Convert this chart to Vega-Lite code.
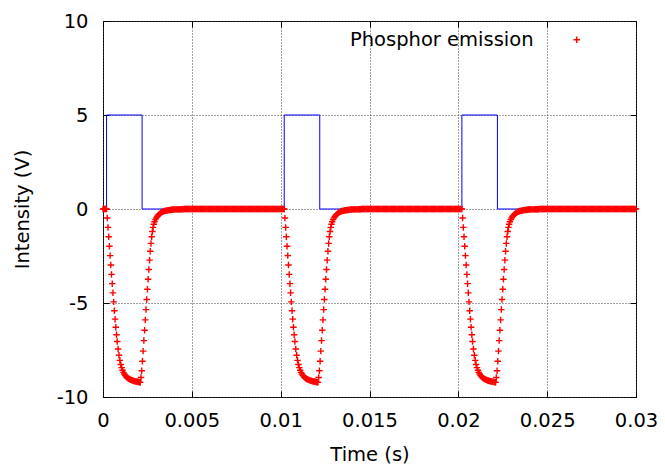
{
"$schema": "https://vega.github.io/schema/vega-lite/v6.json",
"width": 533, "height": 376,
"autosize": {"type": "none"},
"padding": {"left": 103, "top": 21, "right": 29, "bottom": 73},
"background": "white",
"config": {
 "font": "DejaVu Sans",
 "view": {"stroke": "#000", "strokeWidth": 1},
 "axis": {"labelFont": "DejaVu Sans", "labelFontSize": 19.5, "labelColor": "#000", "titleFont": "DejaVu Sans", "titleFontSize": 19.5, "titleFontWeight": "normal", "titleColor": "#000", "domain": false, "tickColor": "#000", "tickSize": -6, "tickWidth": 1, "gridColor": "#444", "gridDash": [1, 2], "gridWidth": 1, "gridOpacity": 1, "labelFlush": false, "labelOverlap": false}
},
"datasets": {
 "sq": [
  {"i":0,"t":0,"v":0},{"i":1,"t":0.0002,"v":0},{"i":2,"t":0.0002,"v":5},{"i":3,"t":0.0022,"v":5},{"i":4,"t":0.0022,"v":0},
  {"i":5,"t":0.0102,"v":0},{"i":6,"t":0.0102,"v":5},{"i":7,"t":0.0122,"v":5},{"i":8,"t":0.0122,"v":0},
  {"i":9,"t":0.0202,"v":0},{"i":10,"t":0.0202,"v":5},{"i":11,"t":0.0222,"v":5},{"i":12,"t":0.0222,"v":0},{"i":13,"t":0.03,"v":0}
 ],
 "ph": [
  {"t":0,"v":0},{"t":0.00005,"v":0},{"t":0.0001,"v":0},{"t":0.00015,"v":0},
  {"t":0.0002,"v":0},{"t":0.00024,"v":-0.48},{"t":0.00028,"v":-0.98},{"t":0.00032,"v":-1.48},{"t":0.00036,"v":-1.98},{"t":0.0004,"v":-2.48},{"t":0.00044,"v":-2.98},{"t":0.00048,"v":-3.48},{"t":0.00052,"v":-3.97},{"t":0.00056,"v":-4.46},{"t":0.0006,"v":-4.94},{"t":0.00064,"v":-5.41},{"t":0.00068,"v":-5.86},{"t":0.00072,"v":-6.29},{"t":0.00076,"v":-6.69},{"t":0.0008,"v":-7.05},{"t":0.00085,"v":-7.45},{"t":0.0009,"v":-7.78},{"t":0.00095,"v":-8.05},{"t":0.001,"v":-8.27},{"t":0.00105,"v":-8.44},{"t":0.0011,"v":-8.58},{"t":0.00115,"v":-8.69},{"t":0.0012,"v":-8.78},{"t":0.00125,"v":-8.85},{"t":0.0013,"v":-8.91},{"t":0.00135,"v":-8.96},{"t":0.0014,"v":-9.0},{"t":0.00145,"v":-9.03},{"t":0.0015,"v":-9.06},{"t":0.00155,"v":-9.08},{"t":0.0016,"v":-9.1},{"t":0.00165,"v":-9.12},{"t":0.0017,"v":-9.13},{"t":0.00175,"v":-9.15},{"t":0.0018,"v":-9.16},{"t":0.00185,"v":-9.17},{"t":0.0019,"v":-9.18},{"t":0.00195,"v":-9.19},{"t":0.002,"v":-9.2},{"t":0.00205,"v":-9.21},
  {"t":0.0021,"v":-9.22},{"t":0.00214,"v":-8.96},{"t":0.00218,"v":-8.6},{"t":0.00222,"v":-8.1},{"t":0.00226,"v":-7.56},{"t":0.0023,"v":-7.0},{"t":0.00234,"v":-6.45},{"t":0.00238,"v":-5.9},{"t":0.00242,"v":-5.35},{"t":0.00246,"v":-4.81},{"t":0.0025,"v":-4.27},{"t":0.00254,"v":-3.74},{"t":0.00258,"v":-3.22},{"t":0.00262,"v":-2.72},{"t":0.00266,"v":-2.25},{"t":0.0027,"v":-1.83},{"t":0.00274,"v":-1.48},{"t":0.00278,"v":-1.2},{"t":0.00282,"v":-0.98},{"t":0.00286,"v":-0.81},{"t":0.0029,"v":-0.68},{"t":0.00295,"v":-0.56},{"t":0.003,"v":-0.47},{"t":0.00305,"v":-0.4},{"t":0.0031,"v":-0.34},{"t":0.00315,"v":-0.29},{"t":0.0032,"v":-0.25},{"t":0.00325,"v":-0.21},{"t":0.0033,"v":-0.18},{"t":0.00335,"v":-0.15},{"t":0.0034,"v":-0.13},{"t":0.00345,"v":-0.11},{"t":0.0035,"v":-0.1},{"t":0.00355,"v":-0.09},{"t":0.0036,"v":-0.08},{"t":0.00365,"v":-0.07},{"t":0.0037,"v":-0.06},{"t":0.00375,"v":-0.05},{"t":0.0038,"v":-0.05},{"t":0.00385,"v":-0.04},{"t":0.0039,"v":-0.04},{"t":0.00395,"v":-0.03},{"t":0.004,"v":-0.03},{"t":0.00405,"v":-0.02},{"t":0.0041,"v":-0.02},
  {"t":0.00415,"v":-0.02},{"t":0.0042,"v":-0.02},{"t":0.00425,"v":-0.02},{"t":0.0043,"v":-0.02},{"t":0.00435,"v":-0.01},{"t":0.0044,"v":-0.01},{"t":0.00445,"v":-0.01},{"t":0.0045,"v":-0.01},{"t":0.00455,"v":0},{"t":0.0046,"v":0},{"t":0.00465,"v":0},{"t":0.0047,"v":0},{"t":0.00475,"v":0},{"t":0.0048,"v":0},{"t":0.00485,"v":0},{"t":0.0049,"v":0},{"t":0.00495,"v":0},{"t":0.005,"v":0},{"t":0.00505,"v":0},{"t":0.0051,"v":0},{"t":0.00515,"v":0},{"t":0.0052,"v":0},{"t":0.00525,"v":0},{"t":0.0053,"v":0},{"t":0.00535,"v":0},{"t":0.0054,"v":0},{"t":0.00545,"v":0},{"t":0.0055,"v":0},{"t":0.00555,"v":0},{"t":0.0056,"v":0},{"t":0.00565,"v":0},{"t":0.0057,"v":0},{"t":0.00575,"v":0},{"t":0.0058,"v":0},{"t":0.00585,"v":0},{"t":0.0059,"v":0},{"t":0.00595,"v":0},{"t":0.006,"v":0},{"t":0.00605,"v":0},{"t":0.0061,"v":0},{"t":0.00615,"v":0},{"t":0.0062,"v":0},{"t":0.00625,"v":0},{"t":0.0063,"v":0},{"t":0.00635,"v":0},{"t":0.0064,"v":0},{"t":0.00645,"v":0},{"t":0.0065,"v":0},{"t":0.00655,"v":0},{"t":0.0066,"v":0},{"t":0.00665,"v":0},{"t":0.0067,"v":0},{"t":0.00675,"v":0},{"t":0.0068,"v":0},{"t":0.00685,"v":0},{"t":0.0069,"v":0},{"t":0.00695,"v":0},{"t":0.007,"v":0},{"t":0.00705,"v":0},{"t":0.0071,"v":0},{"t":0.00715,"v":0},{"t":0.0072,"v":0},{"t":0.00725,"v":0},{"t":0.0073,"v":0},{"t":0.00735,"v":0},{"t":0.0074,"v":0},{"t":0.00745,"v":0},{"t":0.0075,"v":0},{"t":0.00755,"v":0},{"t":0.0076,"v":0},{"t":0.00765,"v":0},{"t":0.0077,"v":0},{"t":0.00775,"v":0},{"t":0.0078,"v":0},{"t":0.00785,"v":0},{"t":0.0079,"v":0},{"t":0.00795,"v":0},{"t":0.008,"v":0},{"t":0.00805,"v":0},{"t":0.0081,"v":0},{"t":0.00815,"v":0},{"t":0.0082,"v":0},{"t":0.00825,"v":0},{"t":0.0083,"v":0},{"t":0.00835,"v":0},{"t":0.0084,"v":0},{"t":0.00845,"v":0},{"t":0.0085,"v":0},{"t":0.00855,"v":0},{"t":0.0086,"v":0},{"t":0.00865,"v":0},{"t":0.0087,"v":0},{"t":0.00875,"v":0},{"t":0.0088,"v":0},{"t":0.00885,"v":0},{"t":0.0089,"v":0},{"t":0.00895,"v":0},{"t":0.009,"v":0},{"t":0.00905,"v":0},{"t":0.0091,"v":0},{"t":0.00915,"v":0},{"t":0.0092,"v":0},{"t":0.00925,"v":0},{"t":0.0093,"v":0},{"t":0.00935,"v":0},{"t":0.0094,"v":0},{"t":0.00945,"v":0},{"t":0.0095,"v":0},{"t":0.00955,"v":0},{"t":0.0096,"v":0},{"t":0.00965,"v":0},{"t":0.0097,"v":0},{"t":0.00975,"v":0},{"t":0.0098,"v":0},{"t":0.00985,"v":0},{"t":0.0099,"v":0},{"t":0.00995,"v":0},{"t":0.01,"v":0},{"t":0.01005,"v":0},{"t":0.0101,"v":0},{"t":0.01015,"v":0},
  {"t":0.0102,"v":0},{"t":0.01024,"v":-0.48},{"t":0.01028,"v":-0.98},{"t":0.01032,"v":-1.48},{"t":0.01036,"v":-1.98},{"t":0.0104,"v":-2.48},{"t":0.01044,"v":-2.98},{"t":0.01048,"v":-3.48},{"t":0.01052,"v":-3.97},{"t":0.01056,"v":-4.46},{"t":0.0106,"v":-4.94},{"t":0.01064,"v":-5.41},{"t":0.01068,"v":-5.86},{"t":0.01072,"v":-6.29},{"t":0.01076,"v":-6.69},{"t":0.0108,"v":-7.05},{"t":0.01085,"v":-7.45},{"t":0.0109,"v":-7.78},{"t":0.01095,"v":-8.05},{"t":0.011,"v":-8.27},{"t":0.01105,"v":-8.44},{"t":0.0111,"v":-8.58},{"t":0.01115,"v":-8.69},{"t":0.0112,"v":-8.78},{"t":0.01125,"v":-8.85},{"t":0.0113,"v":-8.91},{"t":0.01135,"v":-8.96},{"t":0.0114,"v":-9.0},{"t":0.01145,"v":-9.03},{"t":0.0115,"v":-9.06},{"t":0.01155,"v":-9.08},{"t":0.0116,"v":-9.1},{"t":0.01165,"v":-9.12},{"t":0.0117,"v":-9.13},{"t":0.01175,"v":-9.15},{"t":0.0118,"v":-9.16},{"t":0.01185,"v":-9.17},{"t":0.0119,"v":-9.18},{"t":0.01195,"v":-9.19},{"t":0.012,"v":-9.2},{"t":0.01205,"v":-9.21},
  {"t":0.0121,"v":-9.22},{"t":0.01214,"v":-8.96},{"t":0.01218,"v":-8.6},{"t":0.01222,"v":-8.1},{"t":0.01226,"v":-7.56},{"t":0.0123,"v":-7.0},{"t":0.01234,"v":-6.45},{"t":0.01238,"v":-5.9},{"t":0.01242,"v":-5.35},{"t":0.01246,"v":-4.81},{"t":0.0125,"v":-4.27},{"t":0.01254,"v":-3.74},{"t":0.01258,"v":-3.22},{"t":0.01262,"v":-2.72},{"t":0.01266,"v":-2.25},{"t":0.0127,"v":-1.83},{"t":0.01274,"v":-1.48},{"t":0.01278,"v":-1.2},{"t":0.01282,"v":-0.98},{"t":0.01286,"v":-0.81},{"t":0.0129,"v":-0.68},{"t":0.01295,"v":-0.56},{"t":0.013,"v":-0.47},{"t":0.01305,"v":-0.4},{"t":0.0131,"v":-0.34},{"t":0.01315,"v":-0.29},{"t":0.0132,"v":-0.25},{"t":0.01325,"v":-0.21},{"t":0.0133,"v":-0.18},{"t":0.01335,"v":-0.15},{"t":0.0134,"v":-0.13},{"t":0.01345,"v":-0.11},{"t":0.0135,"v":-0.1},{"t":0.01355,"v":-0.09},{"t":0.0136,"v":-0.08},{"t":0.01365,"v":-0.07},{"t":0.0137,"v":-0.06},{"t":0.01375,"v":-0.05},{"t":0.0138,"v":-0.05},{"t":0.01385,"v":-0.04},{"t":0.0139,"v":-0.04},{"t":0.01395,"v":-0.03},{"t":0.014,"v":-0.03},{"t":0.01405,"v":-0.02},{"t":0.0141,"v":-0.02},
  {"t":0.01415,"v":-0.02},{"t":0.0142,"v":-0.02},{"t":0.01425,"v":-0.02},{"t":0.0143,"v":-0.02},{"t":0.01435,"v":-0.01},{"t":0.0144,"v":-0.01},{"t":0.01445,"v":-0.01},{"t":0.0145,"v":-0.01},{"t":0.01455,"v":0},{"t":0.0146,"v":0},{"t":0.01465,"v":0},{"t":0.0147,"v":0},{"t":0.01475,"v":0},{"t":0.0148,"v":0},{"t":0.01485,"v":0},{"t":0.0149,"v":0},{"t":0.01495,"v":0},{"t":0.015,"v":0},{"t":0.01505,"v":0},{"t":0.0151,"v":0},{"t":0.01515,"v":0},{"t":0.0152,"v":0},{"t":0.01525,"v":0},{"t":0.0153,"v":0},{"t":0.01535,"v":0},{"t":0.0154,"v":0},{"t":0.01545,"v":0},{"t":0.0155,"v":0},{"t":0.01555,"v":0},{"t":0.0156,"v":0},{"t":0.01565,"v":0},{"t":0.0157,"v":0},{"t":0.01575,"v":0},{"t":0.0158,"v":0},{"t":0.01585,"v":0},{"t":0.0159,"v":0},{"t":0.01595,"v":0},{"t":0.016,"v":0},{"t":0.01605,"v":0},{"t":0.0161,"v":0},{"t":0.01615,"v":0},{"t":0.0162,"v":0},{"t":0.01625,"v":0},{"t":0.0163,"v":0},{"t":0.01635,"v":0},{"t":0.0164,"v":0},{"t":0.01645,"v":0},{"t":0.0165,"v":0},{"t":0.01655,"v":0},{"t":0.0166,"v":0},{"t":0.01665,"v":0},{"t":0.0167,"v":0},{"t":0.01675,"v":0},{"t":0.0168,"v":0},{"t":0.01685,"v":0},{"t":0.0169,"v":0},{"t":0.01695,"v":0},{"t":0.017,"v":0},{"t":0.01705,"v":0},{"t":0.0171,"v":0},{"t":0.01715,"v":0},{"t":0.0172,"v":0},{"t":0.01725,"v":0},{"t":0.0173,"v":0},{"t":0.01735,"v":0},{"t":0.0174,"v":0},{"t":0.01745,"v":0},{"t":0.0175,"v":0},{"t":0.01755,"v":0},{"t":0.0176,"v":0},{"t":0.01765,"v":0},{"t":0.0177,"v":0},{"t":0.01775,"v":0},{"t":0.0178,"v":0},{"t":0.01785,"v":0},{"t":0.0179,"v":0},{"t":0.01795,"v":0},{"t":0.018,"v":0},{"t":0.01805,"v":0},{"t":0.0181,"v":0},{"t":0.01815,"v":0},{"t":0.0182,"v":0},{"t":0.01825,"v":0},{"t":0.0183,"v":0},{"t":0.01835,"v":0},{"t":0.0184,"v":0},{"t":0.01845,"v":0},{"t":0.0185,"v":0},{"t":0.01855,"v":0},{"t":0.0186,"v":0},{"t":0.01865,"v":0},{"t":0.0187,"v":0},{"t":0.01875,"v":0},{"t":0.0188,"v":0},{"t":0.01885,"v":0},{"t":0.0189,"v":0},{"t":0.01895,"v":0},{"t":0.019,"v":0},{"t":0.01905,"v":0},{"t":0.0191,"v":0},{"t":0.01915,"v":0},{"t":0.0192,"v":0},{"t":0.01925,"v":0},{"t":0.0193,"v":0},{"t":0.01935,"v":0},{"t":0.0194,"v":0},{"t":0.01945,"v":0},{"t":0.0195,"v":0},{"t":0.01955,"v":0},{"t":0.0196,"v":0},{"t":0.01965,"v":0},{"t":0.0197,"v":0},{"t":0.01975,"v":0},{"t":0.0198,"v":0},{"t":0.01985,"v":0},{"t":0.0199,"v":0},{"t":0.01995,"v":0},{"t":0.02,"v":0},{"t":0.02005,"v":0},{"t":0.0201,"v":0},{"t":0.02015,"v":0},
  {"t":0.0202,"v":0},{"t":0.02024,"v":-0.48},{"t":0.02028,"v":-0.98},{"t":0.02032,"v":-1.48},{"t":0.02036,"v":-1.98},{"t":0.0204,"v":-2.48},{"t":0.02044,"v":-2.98},{"t":0.02048,"v":-3.48},{"t":0.02052,"v":-3.97},{"t":0.02056,"v":-4.46},{"t":0.0206,"v":-4.94},{"t":0.02064,"v":-5.41},{"t":0.02068,"v":-5.86},{"t":0.02072,"v":-6.29},{"t":0.02076,"v":-6.69},{"t":0.0208,"v":-7.05},{"t":0.02085,"v":-7.45},{"t":0.0209,"v":-7.78},{"t":0.02095,"v":-8.05},{"t":0.021,"v":-8.27},{"t":0.02105,"v":-8.44},{"t":0.0211,"v":-8.58},{"t":0.02115,"v":-8.69},{"t":0.0212,"v":-8.78},{"t":0.02125,"v":-8.85},{"t":0.0213,"v":-8.91},{"t":0.02135,"v":-8.96},{"t":0.0214,"v":-9.0},{"t":0.02145,"v":-9.03},{"t":0.0215,"v":-9.06},{"t":0.02155,"v":-9.08},{"t":0.0216,"v":-9.1},{"t":0.02165,"v":-9.12},{"t":0.0217,"v":-9.13},{"t":0.02175,"v":-9.15},{"t":0.0218,"v":-9.16},{"t":0.02185,"v":-9.17},{"t":0.0219,"v":-9.18},{"t":0.02195,"v":-9.19},{"t":0.022,"v":-9.2},{"t":0.02205,"v":-9.21},
  {"t":0.0221,"v":-9.22},{"t":0.02214,"v":-8.96},{"t":0.02218,"v":-8.6},{"t":0.02222,"v":-8.1},{"t":0.02226,"v":-7.56},{"t":0.0223,"v":-7.0},{"t":0.02234,"v":-6.45},{"t":0.02238,"v":-5.9},{"t":0.02242,"v":-5.35},{"t":0.02246,"v":-4.81},{"t":0.0225,"v":-4.27},{"t":0.02254,"v":-3.74},{"t":0.02258,"v":-3.22},{"t":0.02262,"v":-2.72},{"t":0.02266,"v":-2.25},{"t":0.0227,"v":-1.83},{"t":0.02274,"v":-1.48},{"t":0.02278,"v":-1.2},{"t":0.02282,"v":-0.98},{"t":0.02286,"v":-0.81},{"t":0.0229,"v":-0.68},{"t":0.02295,"v":-0.56},{"t":0.023,"v":-0.47},{"t":0.02305,"v":-0.4},{"t":0.0231,"v":-0.34},{"t":0.02315,"v":-0.29},{"t":0.0232,"v":-0.25},{"t":0.02325,"v":-0.21},{"t":0.0233,"v":-0.18},{"t":0.02335,"v":-0.15},{"t":0.0234,"v":-0.13},{"t":0.02345,"v":-0.11},{"t":0.0235,"v":-0.1},{"t":0.02355,"v":-0.09},{"t":0.0236,"v":-0.08},{"t":0.02365,"v":-0.07},{"t":0.0237,"v":-0.06},{"t":0.02375,"v":-0.05},{"t":0.0238,"v":-0.05},{"t":0.02385,"v":-0.04},{"t":0.0239,"v":-0.04},{"t":0.02395,"v":-0.03},{"t":0.024,"v":-0.03},{"t":0.02405,"v":-0.02},{"t":0.0241,"v":-0.02},
  {"t":0.02415,"v":-0.02},{"t":0.0242,"v":-0.02},{"t":0.02425,"v":-0.02},{"t":0.0243,"v":-0.02},{"t":0.02435,"v":-0.01},{"t":0.0244,"v":-0.01},{"t":0.02445,"v":-0.01},{"t":0.0245,"v":-0.01},{"t":0.02455,"v":0},{"t":0.0246,"v":0},{"t":0.02465,"v":0},{"t":0.0247,"v":0},{"t":0.02475,"v":0},{"t":0.0248,"v":0},{"t":0.02485,"v":0},{"t":0.0249,"v":0},{"t":0.02495,"v":0},{"t":0.025,"v":0},{"t":0.02505,"v":0},{"t":0.0251,"v":0},{"t":0.02515,"v":0},{"t":0.0252,"v":0},{"t":0.02525,"v":0},{"t":0.0253,"v":0},{"t":0.02535,"v":0},{"t":0.0254,"v":0},{"t":0.02545,"v":0},{"t":0.0255,"v":0},{"t":0.02555,"v":0},{"t":0.0256,"v":0},{"t":0.02565,"v":0},{"t":0.0257,"v":0},{"t":0.02575,"v":0},{"t":0.0258,"v":0},{"t":0.02585,"v":0},{"t":0.0259,"v":0},{"t":0.02595,"v":0},{"t":0.026,"v":0},{"t":0.02605,"v":0},{"t":0.0261,"v":0},{"t":0.02615,"v":0},{"t":0.0262,"v":0},{"t":0.02625,"v":0},{"t":0.0263,"v":0},{"t":0.02635,"v":0},{"t":0.0264,"v":0},{"t":0.02645,"v":0},{"t":0.0265,"v":0},{"t":0.02655,"v":0},{"t":0.0266,"v":0},{"t":0.02665,"v":0},{"t":0.0267,"v":0},{"t":0.02675,"v":0},{"t":0.0268,"v":0},{"t":0.02685,"v":0},{"t":0.0269,"v":0},{"t":0.02695,"v":0},{"t":0.027,"v":0},{"t":0.02705,"v":0},{"t":0.0271,"v":0},{"t":0.02715,"v":0},{"t":0.0272,"v":0},{"t":0.02725,"v":0},{"t":0.0273,"v":0},{"t":0.02735,"v":0},{"t":0.0274,"v":0},{"t":0.02745,"v":0},{"t":0.0275,"v":0},{"t":0.02755,"v":0},{"t":0.0276,"v":0},{"t":0.02765,"v":0},{"t":0.0277,"v":0},{"t":0.02775,"v":0},{"t":0.0278,"v":0},{"t":0.02785,"v":0},{"t":0.0279,"v":0},{"t":0.02795,"v":0},{"t":0.028,"v":0},{"t":0.02805,"v":0},{"t":0.0281,"v":0},{"t":0.02815,"v":0},{"t":0.0282,"v":0},{"t":0.02825,"v":0},{"t":0.0283,"v":0},{"t":0.02835,"v":0},{"t":0.0284,"v":0},{"t":0.02845,"v":0},{"t":0.0285,"v":0},{"t":0.02855,"v":0},{"t":0.0286,"v":0},{"t":0.02865,"v":0},{"t":0.0287,"v":0},{"t":0.02875,"v":0},{"t":0.0288,"v":0},{"t":0.02885,"v":0},{"t":0.0289,"v":0},{"t":0.02895,"v":0},{"t":0.029,"v":0},{"t":0.02905,"v":0},{"t":0.0291,"v":0},{"t":0.02915,"v":0},{"t":0.0292,"v":0},{"t":0.02925,"v":0},{"t":0.0293,"v":0},{"t":0.02935,"v":0},{"t":0.0294,"v":0},{"t":0.02945,"v":0},{"t":0.0295,"v":0},{"t":0.02955,"v":0},{"t":0.0296,"v":0},{"t":0.02965,"v":0},{"t":0.0297,"v":0},{"t":0.02975,"v":0},{"t":0.0298,"v":0},{"t":0.02985,"v":0},{"t":0.0299,"v":0},{"t":0.02995,"v":0},{"t":0.03,"v":0}
 ]
},
"layer": [
 {
  "data": {"name": "sq"},
  "mark": {"type": "line", "color": "#0000ff", "strokeWidth": 1, "interpolate": "linear"},
  "encoding": {
   "x": {"field": "t", "type": "quantitative", "scale": {"domain": [0, 0.03], "nice": false, "zero": false},
         "axis": {"orient": "bottom", "title": "Time (s)", "values": [0, 0.005, 0.01, 0.015, 0.02, 0.025, 0.03], "format": ".3~f", "grid": true, "labelPadding": 20, "titlePadding": 16}},
   "y": {"field": "v", "type": "quantitative", "scale": {"domain": [-10, 10], "nice": false, "zero": false},
         "axis": {"orient": "left", "title": "Intensity (V)", "values": [-10, -5, 0, 5, 10], "labelExpr": "'' + datum.value", "grid": true, "labelPadding": 21, "titlePadding": 24}},
   "order": {"field": "i", "type": "quantitative"}
  }
 },
 {
  "data": {"name": "ph"},
  "mark": {"type": "point", "shape": "M-1,0L1,0M0,-1L0,1", "filled": false, "strokeWidth": 1.4, "opacity": 1, "size": 42},
  "encoding": {
   "x": {"field": "t", "type": "quantitative", "scale": {"domain": [0, 0.03], "nice": false, "zero": false},
         "axis": {"orient": "top", "labels": false, "title": null, "grid": false, "values": [0, 0.005, 0.01, 0.015, 0.02, 0.025, 0.03]}},
   "y": {"field": "v", "type": "quantitative", "scale": {"domain": [-10, 10], "nice": false, "zero": false},
         "axis": {"orient": "right", "labels": false, "title": null, "grid": false, "values": [-10, -5, 0, 5, 10]}},
   "color": {"datum": "Phosphor emission", "type": "nominal", "scale": {"range": ["#ff0000"]},
     "legend": {"orient": "none", "legendX": 464, "legendY": 9, "title": null, "padding": 0, "labelFont": "DejaVu Sans", "labelFontSize": 19.5, "labelColor": "#000", "labelLimit": 400, "labelAlign": "right", "labelOffset": -53, "symbolType": "M-1,0L1,0M0,-1L0,1", "symbolSize": 42, "symbolStrokeColor": "#ff0000", "symbolFillColor": "transparent", "symbolStrokeWidth": 1.4}}
  }
 }
],
"resolve": {"axis": {"x": "independent", "y": "independent"}}
}
